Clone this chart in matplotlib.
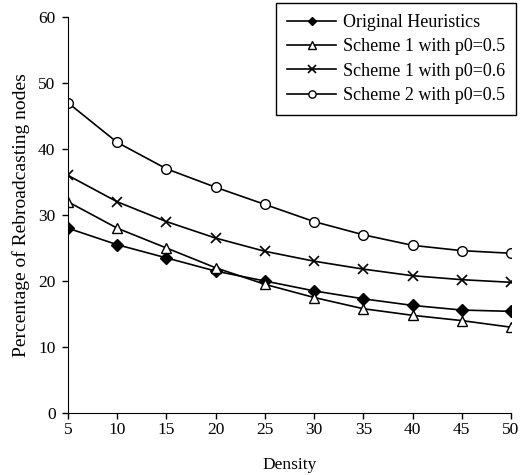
import matplotlib
matplotlib.use("Agg")
import matplotlib.pyplot as plt

density = [5, 10, 15, 20, 25, 30, 35, 40, 45, 50]
original = [28, 25.5, 23.5, 21.5, 20, 18.5, 17.3, 16.3, 15.6, 15.4]
scheme1_05 = [32, 28, 25, 22, 19.5, 17.5, 15.8, 14.8, 14, 13]
scheme1_06 = [36, 32, 29, 26.5, 24.5, 23, 21.8, 20.8, 20.2, 19.8]
scheme2_05 = [47, 41, 37, 34.2, 31.6, 29, 27, 25.4, 24.6, 24.2]
labels = ["Original Heuristics", "Scheme 1 with p0=0.5",
          "Scheme 1 with p0=0.6", "Scheme 2 with p0=0.5"]

plt.rcParams['font.family'] = ['Liberation Serif', 'DejaVu Serif']
plt.rcParams['font.size'] = 12.5

fig = plt.figure(figsize=(5.2, 4.75), dpi=100)
ax = fig.add_axes([68/520, 1-413/475, (511-68)/520, (413-17)/475])

lw = 1.2
ax.plot(density, original, color='black', lw=lw, marker='D', ms=6, mfc='black', mec='black', label=labels[0])
ax.plot(density, scheme1_05, color='black', lw=lw, marker='^', ms=7.5, mfc='white', mec='black', mew=1, label=labels[1])
ax.plot(density, scheme1_06, color='black', lw=lw, marker='x', ms=7.5, mec='black', mew=1.2, label=labels[2])
ax.plot(density, scheme2_05, color='black', lw=lw, marker='o', ms=7, mfc='white', mec='black', mew=1, label=labels[3])

ax.set_xlim(5, 50)
ax.set_ylim(0, 60)
ax.set_xticks(density)
ax.set_yticks(range(0, 61, 10))
ax.spines['top'].set_visible(False)
ax.spines['right'].set_visible(False)
ax.tick_params(direction='out', length=4, width=1, colors='black', labelsize=12.5)
ax.tick_params(axis='x', pad=2.5)
ax.tick_params(axis='y', pad=5)
ax.set_xlabel("Density", fontsize=12.5, labelpad=14)
ax.set_ylabel("Percentage of Rebroadcasting nodes", fontsize=14, labelpad=6)

leg = ax.legend(loc='upper left', bbox_to_anchor=(276/520, 1-3/475), bbox_transform=fig.transFigure,
                frameon=True, fancybox=False, edgecolor='black', framealpha=1,
                fontsize=13, handlelength=2.7, borderpad=0.62, labelspacing=0.4,
                handletextpad=0.4, markerscale=0.75, borderaxespad=0)
leg.get_frame().set_linewidth(1)

fig.savefig("out.png", dpi=100)
